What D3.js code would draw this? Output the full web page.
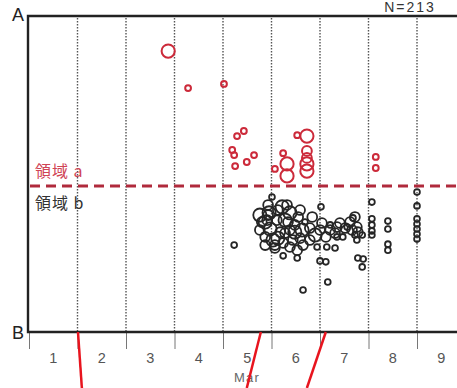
<!DOCTYPE html>
<html><head><meta charset="utf-8">
<script src="https://cdn.jsdelivr.net/npm/d3@7"></script>
<style>html,body{margin:0;padding:0;background:#fff;}svg{display:block;}</style>
</head><body>
<svg id="chart" width="457" height="388"></svg>
<script>
// ---- data ----
const monthLabels = ["1","2","3","4","5","6","7","8","9"];
const monthBoundaries = [2,3,4,5,6,7,8,9];
const axisTitle = "Mar";
const countLabel = "N=213";
const threshold = 46.2;
const regionLabels = ["領域 a","領域 b"];
// red points: month position, level, size class
const redX = [3.87,4.28,5.02,5.29,5.43,5.19,5.23,5.25,5.49,5.64,6.07,6.24,6.32,6.32,6.53,6.73,6.73,6.73,6.73,6.73,8.15,8.15];
const redY = [88.9,77.2,78.5,62.0,63.6,57.6,56.0,52.5,53.8,56.0,51.6,56.6,53.2,49.4,62.3,62.0,57.3,55.1,53.2,50.9,55.4,51.9];
const redS = [3,1,1,1,1,1,1,1,1,1,1,1,3,3,1,3,2,2,3,3,1,1];
// black points
const blackX = [5.23,6.01,6.22,5.95,6.38,5.87,6.11,6.55,6.84,7.02,5.97,6.18,6.38,6.63,6.90,6.03,6.24,6.44,6.65,6.07,6.24,6.53,6.94,7.12,7.21,7.04,7.35,7.31,7.14,7.00,7.12,7.16,6.65,7.41,7.52,5.91,5.80,5.93,6.07,6.28,7.62,7.72,7.76,7.66,7.56,7.78,7.72,7.68,7.47,7.76,7.87,7.78,7.89,7.87,8.07,8.07,8.07,8.07,8.07,8.40,8.40,8.40,8.40,9.00,9.00,9.00,9.00,9.00,9.00,9.00,6.13,5.76,6.34,6.48,6.69,6.79,5.87,7.35,7.31,6.53,5.76,6.28,6.48,6.13,5.87,6.38,6.59,6.79,7.00,7.21,5.93,6.32,6.59];
const blackY = [27.5,42.7,39.6,37.7,37.7,34.8,35.4,36.4,36.4,39.6,32.6,31.6,32.3,32.3,30.7,29.1,28.2,29.1,27.5,26.6,24.1,23.4,26.9,30.1,32.3,34.5,33.2,31.3,26.9,22.5,22.2,15.8,13.3,34.5,32.9,35.4,34.8,37.0,27.5,31.3,34.8,36.4,33.2,32.3,33.2,31.6,30.7,36.1,30.1,29.1,30.7,23.4,23.1,20.6,41.1,35.8,33.9,32.0,30.7,35.1,32.6,27.8,25.9,44.3,39.9,35.8,34.2,32.6,31.0,29.4,38.6,32.3,34.8,33.9,34.8,32.9,30.1,30.1,26.6,25.9,37.0,35.4,31.6,29.7,27.5,26.9,29.7,29.1,32.3,33.9,40.2,40.2,38.6];
const blackS = [1,1,3,3,3,3,2,2,2,1,3,2,2,3,3,3,2,2,2,2,1,1,1,2,2,2,2,2,1,1,1,1,1,2,2,2,2,2,2,2,2,2,2,2,1,2,1,1,1,1,1,1,1,1,1,1,1,1,1,1,1,1,1,1,1,1,1,1,1,1,2,2,2,2,1,2,2,1,1,2,3,3,3,3,2,2,2,2,2,1,2,2,2];
// annotation strokes crossing the axis: month position at axis and at bottom edge
const markTop = [2.01,5.78,7.12];
const markBottom = [2.09,5.49,6.73];

(function draw() {
const svg = d3.select("#chart");
const pLeft = 29, pRight = 457, pTop = 16, pBottom = 332;
const x = d3.scaleLinear().domain([1, 1 + (pRight - pLeft) / 48.5]).range([pLeft, pRight]);
const y = d3.scaleLinear().domain([0, 100]).range([pBottom, pTop]);
const r = d3.scaleOrdinal().domain([1,2,3]).range([2.9,4.9,6.6]);
const latin = "'Liberation Sans', Arial, sans-serif";
const cjk = "'Noto Sans CJK JP', 'Noto Sans', sans-serif";

// dotted month separators
svg.append("g").selectAll("line").data(monthBoundaries).join("line")
  .attr("x1", d => x(d)).attr("x2", d => x(d))
  .attr("y1", pTop + 2).attr("y2", pBottom)
  .attr("stroke", "#555").attr("stroke-width", 1.4).attr("stroke-dasharray", "1.4,1.6");

// bottom axis with ticks at month boundaries
const xAxis = d3.axisBottom(x).tickValues([1].concat(monthBoundaries)).tickSize(17).tickFormat("");
const gx = svg.append("g").attr("transform", `translate(0,${pBottom})`).call(xAxis);
gx.select(".domain").remove();
gx.selectAll(".tick line").attr("stroke", "#777").attr("stroke-width", 1);

// month labels
svg.append("g").selectAll("text").data(monthLabels).join("text")
  .attr("x", (d, i) => x(i + 1.5)).attr("y", 363)
  .attr("text-anchor", "middle").attr("font-family", latin)
  .attr("font-size", 14.5).attr("fill", "#555").text(d => d);
svg.append("text").attr("x", 247).attr("y", 382).attr("text-anchor", "middle")
  .attr("font-family", latin).attr("font-size", 13).attr("letter-spacing", 1.2).attr("fill", "#666").text(axisTitle);

// frame
svg.append("path").attr("d", `M${pRight},${pTop}H${pLeft - 1}V${pBottom}H${pRight}`)
  .attr("fill", "none").attr("stroke", "#222").attr("stroke-width", 2.4);

// threshold dashed line
svg.append("line").attr("x1", pLeft + 1).attr("x2", pRight).attr("y1", y(threshold)).attr("y2", y(threshold))
  .attr("stroke", "#b02a3c").attr("stroke-width", 3).attr("stroke-dasharray", "10,6");

// region labels
svg.append("text").attr("x", 35).attr("y", y(threshold) - 9).attr("font-family", cjk)
  .attr("font-size", 16).attr("letter-spacing", 1).attr("fill", "#d04455").text(regionLabels[0]);
svg.append("text").attr("x", 35).attr("y", y(threshold) + 23).attr("font-family", cjk)
  .attr("font-size", 16).attr("letter-spacing", 1).attr("fill", "#333").text(regionLabels[1]);

// black points
const black = blackX.map((v, i) => ({x: v, y: blackY[i], s: blackS[i]}));
svg.append("g").selectAll("circle").data(black).join("circle")
  .attr("cx", d => x(d.x)).attr("cy", d => y(d.y)).attr("r", d => r(d.s))
  .attr("fill", "none").attr("stroke", "#262626").attr("stroke-width", 1.8);

// red points
const red = redX.map((v, i) => ({x: v, y: redY[i], s: redS[i]}));
svg.append("g").selectAll("circle").data(red).join("circle")
  .attr("cx", d => x(d.x)).attr("cy", d => y(d.y)).attr("r", d => r(d.s))
  .attr("fill", "none").attr("stroke", "#cc2a3a").attr("stroke-width", 2);

// corner labels
svg.append("text").attr("x", 18).attr("y", 21).attr("text-anchor", "middle")
  .attr("font-family", latin).attr("font-size", 18).attr("fill", "#222").text("A");
svg.append("text").attr("x", 18).attr("y", 339).attr("text-anchor", "middle")
  .attr("font-family", latin).attr("font-size", 18).attr("fill", "#222").text("B");
svg.append("text").attr("x", 410).attr("y", 12).attr("text-anchor", "middle")
  .attr("font-family", latin).attr("font-size", 14).attr("letter-spacing", 2).attr("fill", "#333").text(countLabel);

// red annotation strokes
svg.append("g").selectAll("line").data(markTop).join("line")
  .attr("x1", d => x(d)).attr("y1", pBottom)
  .attr("x2", (d, i) => x(markBottom[i])).attr("y2", 388)
  .attr("stroke", "#e8141e").attr("stroke-width", 2.5);
})();
</script>
</body></html>
